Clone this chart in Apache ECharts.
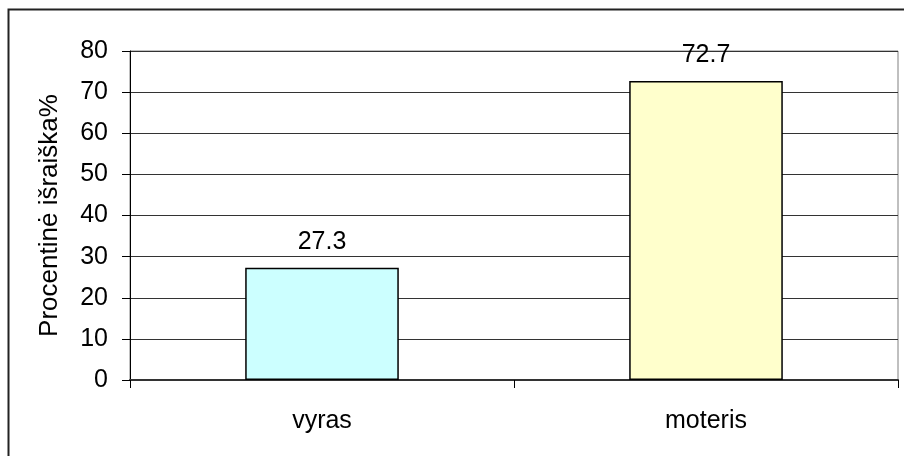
<!DOCTYPE html>
<html>
<head>
<meta charset="utf-8">
<script src="https://cdn.jsdelivr.net/npm/echarts@6/dist/echarts.min.js"></script>
<style>
  html, body { margin: 0; padding: 0; background: #fff; }
  #chart { width: 904px; height: 456px; }
</style>
</head>
<body>
<div id="chart"></div>
<script>
// duomenys
var categories = ["vyras", "moteris"];
var values = [27.3, 72.7];
var barColors = ["#ccffff", "#ffffcc"];
var yTitle = "Procentinė išraiška%";

var font = "Liberation Sans, Arial, sans-serif";

var chart = echarts.init(document.getElementById("chart"), null, { renderer: "canvas" });

var option = {
  backgroundColor: "#fff",
  animation: false,
  grid: {
    left: 130, top: 51, right: 6, bottom: 76,
    show: true, borderColor: "#808080", borderWidth: 1, backgroundColor: "transparent"
  },
  xAxis: {
    type: "category",
    data: categories,
    axisLine: { lineStyle: { color: "#333", width: 2 } },
    axisTick: { show: true, length: 8, lineStyle: { color: "#000" } },
    axisLabel: { margin: 29, fontSize: 25, color: "#000", fontFamily: font }
  },
  yAxis: {
    type: "value",
    min: 0, max: 80, interval: 10,
    name: yTitle,
    nameLocation: "middle",
    nameGap: 67,
    nameRotate: 90,
    nameTextStyle: { fontSize: 26, color: "#000", fontFamily: font },
    axisLine: { show: true, lineStyle: { color: "#000", width: 1 } },
    axisTick: { show: true, length: 8, lineStyle: { color: "#000" } },
    axisLabel: { margin: 22, fontSize: 25, color: "#000", fontFamily: font },
    splitLine: { show: true, lineStyle: { color: "#333", width: 1 } }
  },
  series: [{
    type: "bar",
    barWidth: "40%",
    data: values.map(function (v, i) {
      return { value: v, itemStyle: { color: barColors[i] } };
    }),
    itemStyle: { borderColor: "#000", borderWidth: 1.5 },
    label: {
      show: true, position: "top", distance: 13,
      fontSize: 25, color: "#000", fontFamily: font,
      formatter: function (p) { return p.value.toFixed(1); }
    }
  }],
  graphic: [{
    type: "rect",
    shape: { x: 8.5, y: 9.5, width: 910, height: 460 },
    style: { fill: null, stroke: "#222", lineWidth: 2 },
    silent: true
  }]
};

chart.setOption(option);
</script>
</body>
</html>
